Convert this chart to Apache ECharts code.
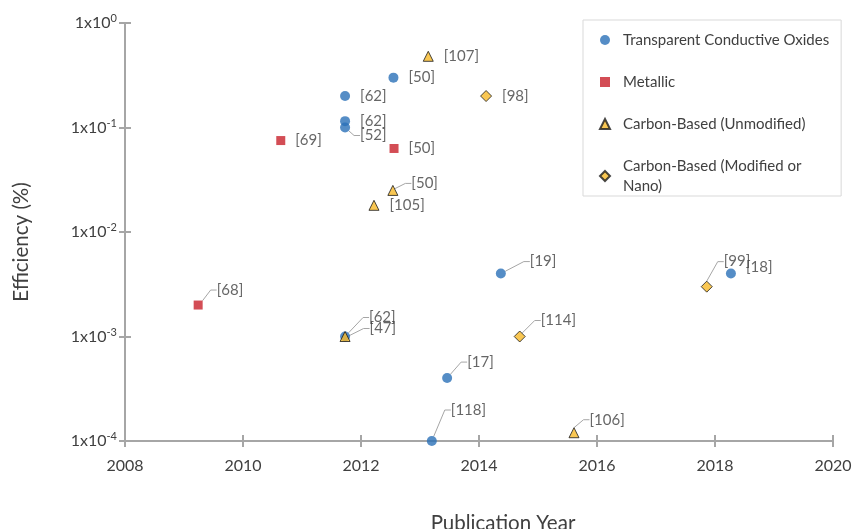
<!DOCTYPE html>
<html>
<head>
<meta charset="utf-8">
<script src="https://cdn.jsdelivr.net/npm/echarts@6/dist/echarts.min.js"></script>
<style>
  html, body { margin: 0; padding: 0; background: #fff; }
  #chart { width: 853px; height: 529px; }
</style>
</head>
<body>
<div id="chart"></div>
<script>
// data
const tcoYear = [2012.55, 2011.73, 2011.73, 2011.73, 2014.37, 2018.27, 2011.73, 2013.46, 2013.2];
const tcoEff = [0.3, 0.2, 0.115, 0.1, 0.004, 0.004, 0.001, 0.0004, 0.0001];
const tcoRef = ['[50]', '[62]', '[62]', '[52]', '[19]', '[18]', '[62]', '[17]', '[118]'];

const metYear = [2010.64, 2012.56, 2009.24];
const metEff = [0.075, 0.063, 0.002];
const metRef = ['[69]', '[50]', '[68]'];

const cbuYear = [2013.14, 2012.54, 2012.22, 2011.73, 2015.61];
const cbuEff = [0.48, 0.025, 0.018, 0.001, 0.00012];
const cbuRef = ['[107]', '[50]', '[105]', '[47]', '[106]'];

const cbmYear = [2014.12, 2014.69, 2017.86];
const cbmEff = [0.2, 0.001, 0.003];
const cbmRef = ['[98]', '[114]', '[99]'];

const yearTicks = [2008, 2010, 2012, 2014, 2016, 2018, 2020];

// label nudges (px); third flag = draw a leader line
const tcoNudge = [null, null, null, [0, 8, 1], [14, -12, 1], [0, -6, 0], [9, -19, 1], [5, -16, 1], [4, -31, 1]];
const metNudge = [null, null, [4, -15, 1]];
const cbuNudge = [null, [3, -7, 1], null, [9, -8, 1], [0, -13, 1]];
const cbmNudge = [null, [5, -16, 1], [1, -25, 1]];

const chart = echarts.init(document.getElementById('chart'));
const FONT = 'Lato';
const TEXT = '#404040';
const AXIS = '#a6a6a6';

function points(xs, ys, refs, nudges) {
  return xs.map((x, i) => ({
    value: [x, ys[i]],
    ref: refs[i],
    labelLine: { show: !!(nudges[i] && nudges[i][2]) }
  }));
}

function makeSeries(name, xs, ys, refs, nudges, symbol, size, style) {
  return {
    name: name,
    type: 'scatter',
    symbol: symbol,
    symbolSize: size,
    itemStyle: style,
    data: points(xs, ys, refs, nudges),
    label: {
      show: true,
      position: 'right',
      distance: 10,
      color: TEXT,
      fontFamily: FONT,
      fontSize: 15,
      formatter: p => p.data.ref
    },
    labelLine: {
      show: true,
      length2: 6,
      lineStyle: { color: '#a6a6a6', width: 1 }
    },
    labelLayout: p => {
      const n = nudges[p.dataIndex];
      return n ? { dx: n[0], dy: n[1] } : {};
    }
  };
}

const option = {
  backgroundColor: '#fff',
  animation: false,
  grid: { left: 125, right: 20, top: 23, bottom: 88, outerBoundsMode: 'none' },
  legend: {
    orient: 'vertical',
    left: 583,
    top: 20,
    padding: [10, 12, 0, 16],
    itemGap: 22,
    itemWidth: 10,
    itemHeight: 10,
    borderColor: '#d9d9d9',
    borderWidth: 1,
    textStyle: { color: TEXT, fontFamily: FONT, fontSize: 15, lineHeight: 20, padding: [0, 0, 0, 8] },
    formatter: n => n.replace('Modified or Nano', 'Modified or\nNano')
  },
  xAxis: [{
    type: 'value',
    min: yearTicks[0],
    max: yearTicks[yearTicks.length - 1],
    interval: 2,
    name: 'Publication Year',
    nameLocation: 'middle',
    nameGap: 72,
    nameTextStyle: { color: TEXT, fontFamily: FONT, fontSize: 20.5, padding: [0, 0, 0, 48] },
    axisLine: { lineStyle: { color: AXIS, width: 2 } },
    axisTick: { show: true, length: 6, lineStyle: { color: AXIS, width: 2 } },
    axisLabel: { color: TEXT, fontFamily: FONT, fontSize: 16, margin: 17, formatter: v => String(v) },
    splitLine: { show: false }
  }, {
    type: 'value',
    position: 'bottom',
    min: yearTicks[0],
    max: yearTicks[yearTicks.length - 1],
    interval: 2,
    axisLine: { show: false },
    axisTick: { show: true, inside: true, length: 6, lineStyle: { color: AXIS, width: 2 } },
    axisLabel: { show: false },
    splitLine: { show: false }
  }],
  yAxis: [{
    type: 'log',
    min: 1e-4,
    max: 1,
    logBase: 10,
    name: 'Efficiency (%)',
    nameLocation: 'middle',
    nameGap: 93,
    nameTextStyle: { color: TEXT, fontFamily: FONT, fontSize: 20.5, padding: [0, 20, 0, 0] },
    axisLine: { lineStyle: { color: AXIS, width: 2 } },
    axisTick: { show: true, length: 6, lineStyle: { color: AXIS, width: 2 } },
    minorTick: { show: false },
    axisLabel: {
      color: TEXT,
      fontFamily: FONT,
      fontSize: 16,
      margin: 8,
      formatter: v => '{b|1x10}{s|' + Math.round(Math.log10(v)) + '}',
      rich: {
        b: { color: TEXT, fontFamily: FONT, fontSize: 16, lineHeight: 20 },
        s: { color: TEXT, fontFamily: FONT, fontSize: 11, lineHeight: 10, verticalAlign: 'top' }
      }
    },
    splitLine: { show: false }
  }, {
    type: 'log',
    position: 'left',
    min: 1e-4,
    max: 1,
    logBase: 10,
    axisLine: { show: false },
    axisTick: { show: true, inside: true, length: 6, lineStyle: { color: AXIS, width: 2 } },
    axisLabel: { show: false },
    splitLine: { show: false }
  }],
  series: [
    makeSeries('Transparent Conductive Oxides', tcoYear, tcoEff, tcoRef, tcoNudge, 'circle', 10,
      { color: '#2a70b8' }),
    makeSeries('Metallic', metYear, metEff, metRef, metNudge, 'rect', 9,
      { color: '#c8202a' }),
    makeSeries('Carbon-Based (Unmodified)', cbuYear, cbuEff, cbuRef, cbuNudge, 'triangle', 10,
      { color: '#f7b928', borderColor: '#1a1a1a', borderWidth: 1 }),
    makeSeries('Carbon-Based (Modified or Nano)', cbmYear, cbmEff, cbmRef, cbmNudge, 'diamond', 11,
      { color: '#f7b928', borderColor: '#1a1a1a', borderWidth: 1 })
  ]
};

chart.setOption(option);
window.addEventListener('resize', () => chart.resize());
</script>
</body>
</html>
